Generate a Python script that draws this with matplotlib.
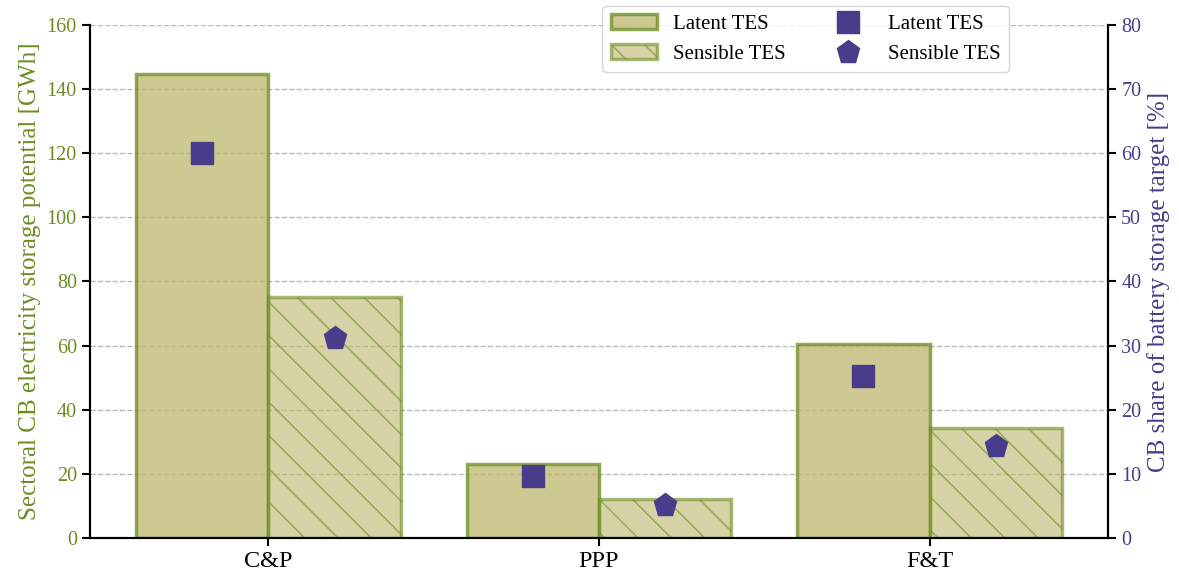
import numpy as np
import matplotlib.pyplot as plt

plt.rcParams['font.family'] = ['Liberation Serif', 'DejaVu Serif']
plt.rcParams['hatch.linewidth'] = 1.1

sectors = ['C&P', 'PPP', 'F&T']
latent_gwh = [144.7, 23.2, 60.6]
sensible_gwh = [75.3, 12.2, 34.4]
latent_share = [60.0, 9.7, 25.3]
sensible_share = [31.2, 5.1, 14.4]

green = 'olivedrab'
blue = 'darkslateblue'
w = 0.4
x = np.arange(len(sectors))

fig = plt.figure(figsize=(11.79, 5.76), dpi=100)
ax = fig.add_axes([0.0763, 0.066, 0.8635, 0.8906])
ax.set_axisbelow(True)
ax.grid(axis='y', linestyle='--', color='#bbbbbb', linewidth=1.0)

ax.bar(x - w / 2, latent_gwh, w, color='darkkhaki', alpha=0.75,
       edgecolor=green, linewidth=2.5, label='Latent TES')
ax.bar(x + w / 2, sensible_gwh, w, color='darkkhaki', alpha=0.6,
       edgecolor=green, linewidth=2.5, hatch='\\', label='Sensible TES')

ax.set_ylim(0, 160)
ax.set_xticks(x)
ax.set_xticklabels(sectors)
ax.tick_params(axis='y', colors=green, labelsize=14.5, width=1.5, length=6)
ax.tick_params(axis='y', color='black')
ax.tick_params(axis='x', width=1.5, length=6, labelsize=17.5)
ax.set_ylabel('Sectoral CB electricity storage potential [GWh]', color=green, fontsize=18)
ax.spines['top'].set_visible(False)
for s in ['left', 'right', 'bottom']:
    ax.spines[s].set_linewidth(1.5)

ax2 = ax.twinx()
ax2.plot(x - w / 2, latent_share, linestyle='none', marker='s', markersize=16,
         color=blue, label='Latent TES')
ax2.plot(x + w / 2, sensible_share, linestyle='none', marker='p', markersize=17,
         color=blue, label='Sensible TES')
ax2.set_ylim(0, 80)
ax2.tick_params(axis='y', colors=blue, labelsize=14.5, width=1.5, length=6)
ax2.tick_params(axis='y', color='black')
ax2.set_ylabel('CB share of battery storage target [%]', color=blue, fontsize=18)
ax2.spines['top'].set_visible(False)
for s in ['left', 'right', 'bottom']:
    ax2.spines[s].set_linewidth(1.5)

h1, l1 = ax.get_legend_handles_labels()
h2, l2 = ax2.get_legend_handles_labels()
ax2.legend(h1 + h2, l1 + l2, ncol=2, loc='upper center', bbox_to_anchor=(0.703, 1.037),
           borderaxespad=0, fontsize=15, columnspacing=1.9, handlelength=2.2)

fig.savefig('out.png', dpi=100)
